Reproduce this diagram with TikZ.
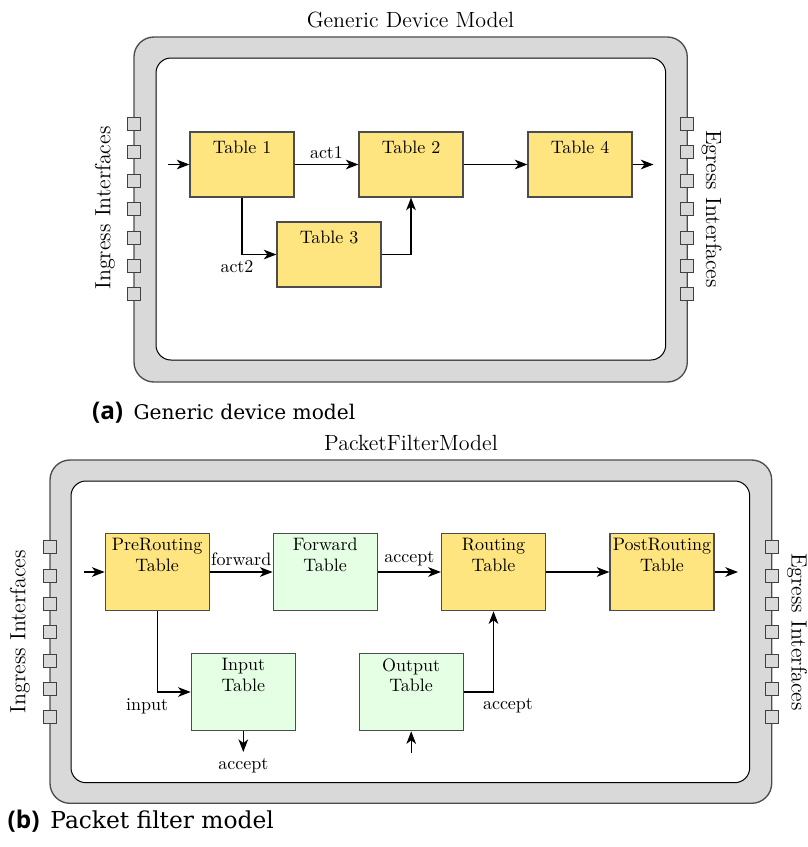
\documentclass[tikz,border=0pt]{standalone}
\usepackage{fontspec}
\newfontfamily\capfont{DejaVu Serif}
\newfontfamily\caplab{Open Sans}
\usetikzlibrary{arrows.meta,calc}
\definecolor{tblyellow}{RGB}{255,229,128}
\definecolor{tblgreen}{RGB}{229,255,229}
\definecolor{framegray}{RGB}{217,217,217}
\begin{document}
\begin{tikzpicture}[x=0.6pt,y=-0.6pt,
  every node/.append style={font=\fontsize{10.8}{12.4}\selectfont},
  outerframe/.style={draw=black!70, fill=framegray, line width=0.8pt, rounded corners=12pt},
  innerframe/.style={draw=black, fill=white, line width=0.6pt, rounded corners=9pt},
  port/.style={draw=black!75, fill=framegray, line width=0.6pt, minimum size=7.8pt, inner sep=0pt},
  tbl/.style={draw=black!70, line width=0.7pt, minimum width=62.4pt, inner sep=0pt},
  yel/.style={tbl, fill=tblyellow},
  grn/.style={tbl, fill=tblgreen},
  hA/.style={minimum height=39pt},
  hB/.style={minimum height=46.4pt},
  labA/.style={anchor=north, inner sep=5.6pt},
  labB/.style={anchor=north, inner sep=3.2pt, align=center},
  conn/.style={-{Stealth[length=7.6pt,width=5.8pt,inset=2.2pt]}, line width=0.75pt},
  sidetext/.style={font=\fontsize{13.2}{16}\selectfont, inner sep=0pt},
  titletext/.style={font=\fontsize{13.2}{16}\selectfont, anchor=base, inner sep=0pt},
  caplabel/.style={font=\fontsize{14.6}{17}\caplab\bfseries\selectfont, anchor=base west, inner sep=0pt},
  captext/.style={font=\fontsize{12.1}{14}\capfont\selectfont, anchor=base west, inner sep=0pt},
  captextB/.style={font=\fontsize{14}{16}\capfont\selectfont, anchor=base west, inner sep=0pt}
]
\useasboundingbox (0,0) rectangle (808,847);

% ---------------- Panel (a) ----------------
\node[titletext] (titleA) at (410.5,27) {Generic Device Model};
\draw[outerframe] (134,37) rectangle (687.3,382);
\draw[innerframe] (156,58) rectangle (665.7,360);
\foreach \k in {0,...,6} {
  \node[port] (pAL\k) at (134,124+28.4*\k) {};
  \node[port] (pAR\k) at (687.3,124+28.4*\k) {};
}
\node[sidetext, rotate=90] (ingA) at (105,208) {Ingress Interfaces};
\node[sidetext, rotate=-90] (egrA) at (711.5,209) {Egress Interfaces};

\node[yel, hA, label={[labA]north:Table 1}] (t1) at (242,164.5) {};
\node[yel, hA, label={[labA]north:Table 2}] (t2) at (411,164.5) {};
\node[yel, hA, label={[labA]north:Table 4}] (t4) at (580,164.5) {};
\node[yel, hA, label={[labA]north:Table 3}] (t3) at (329,254.5) {};

\coordinate (inA) at (168,164.5);
\coordinate (outA) at (653.5,164.5);
\draw[conn] (inA) -- (t1);
\draw[conn] (t1) -- node[above] {act1} (t2);
\draw[conn] (t1.south) |- node[pos=0.5, below, xshift=-3pt] {act2} (t3.west);
\draw[conn] (t3.east) -| (t2.south);
\draw[conn] (t2) -- (t4);
\draw[conn] (t4) -- (outA);

\node[caplabel] (capAl) at (91.7,419.3) {(a)};
\node[captext] (capAt) at (133.3,419.3) {Generic device model};

% ---------------- Panel (b) ----------------
\node[titletext] (titleB) at (411,450.7) {PacketFilterModel};
\draw[outerframe] (50,460) rectangle (771.7,803.3);
\draw[innerframe] (71,481) rectangle (749.7,782.7);
\foreach \k in {0,...,6} {
  \node[port] (pBL\k) at (50,547.3+28.3*\k) {};
  \node[port] (pBR\k) at (771.7,547.3+28.3*\k) {};
}
\node[sidetext, rotate=90] (ingB) at (20,631.7) {Ingress Interfaces};
\node[sidetext, rotate=-90] (egrB) at (797,632) {Egress Interfaces};

\node[yel, hB, label={[labB]north:{PreRouting\\Table}}] (pre) at (157.2,572) {};
\node[grn, hB, label={[labB]north:{Forward\\Table}}] (fwd) at (325.2,572) {};
\node[yel, hB, label={[labB]north:{Routing\\Table}}] (rout) at (493.5,572) {};
\node[yel, hB, label={[labB]north:{PostRouting\\Table}}] (post) at (662,572) {};
\node[grn, hB, label={[labB]north:{Input\\Table}}] (inp) at (243.3,692) {};
\node[grn, hB, label={[labB]north:{Output\\Table}}] (outp) at (411.2,692) {};

\coordinate (inB) at (84,572);
\coordinate (outB) at (738,572);
\coordinate (inpEnd) at (243.3,752);
\coordinate (outpStart) at (411.2,752.5);
\draw[conn] (inB) -- (pre);
\draw[conn] (pre) -- node[above] {forward} (fwd);
\draw[conn] (fwd) -- node[above] {accept} (rout);
\draw[conn] (rout) -- (post);
\draw[conn] (post) -- (outB);
\draw[conn] (pre.south) |- node[pos=0.5, below, xshift=-6pt] {input} (inp.west);
\draw[conn] (inp.south) -- (inpEnd) node[below] (inpAcc) {accept};
\draw[conn] (outpStart) -- (outp.south);
\draw[conn] (outp.east) -| node[pos=0.5, below, xshift=8.7pt] {accept} (rout.south);

\node[caplabel] (capBl) at (7.3,828) {(b)};
\node[captextB] (capBt) at (50,828) {Packet filter model};
\end{tikzpicture}
\end{document}
